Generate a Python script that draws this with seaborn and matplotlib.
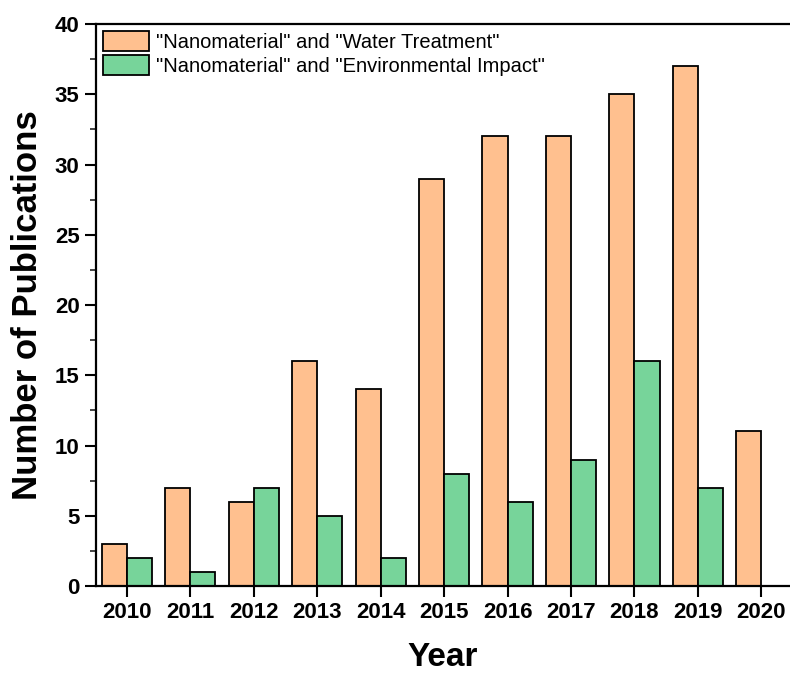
import pandas as pd
import matplotlib.pyplot as plt
import seaborn as sns
from matplotlib.ticker import MultipleLocator

# data
years = ['2010', '2011', '2012', '2013', '2014', '2015', '2016', '2017', '2018', '2019', '2020']
water = [3, 7, 6, 16, 14, 29, 32, 32, 35, 37, 11]
environ = [2, 1, 7, 5, 2, 8, 6, 9, 16, 7, None]

lab_w = '"Nanomaterial" and "Water Treatment"'
lab_e = '"Nanomaterial" and "Environmental Impact"'

df = pd.DataFrame({'Year': years, lab_w: water, lab_e: environ})
df_long = df.melt(id_vars=['Year'], value_vars=[lab_w, lab_e],
                  var_name='Query', value_name='Count')

sns.set_style('ticks')
plt.rcParams['font.family'] = ['Liberation Sans', 'DejaVu Sans']
plt.rcParams['text.color'] = 'black'
plt.rcParams['axes.labelcolor'] = 'black'

fig, ax = plt.subplots(figsize=(7.9, 6.77), dpi=100)
sns.barplot(x='Year', y='Count', hue='Query', data=df_long, ax=ax,
            palette=['#FFC08F', '#77D49A'], width=0.79, edgecolor='black',
            linewidth=1.3, saturation=1, errorbar=None)

ax.set_xlim(-0.49, 10.45)
ax.set_ylim(0, 40)
ax.yaxis.set_major_locator(MultipleLocator(5))
ax.yaxis.set_minor_locator(MultipleLocator(2.5))
ax.tick_params(axis='both', which='major', direction='out', length=8, width=1.5,
               labelsize=16, colors='black')
ax.tick_params(axis='y', which='minor', direction='out', length=4, width=1.2)
for lbl in ax.get_xticklabels() + ax.get_yticklabels():
    lbl.set_fontweight('bold')
for sp in ax.spines.values():
    sp.set_visible(True)
    sp.set_linewidth(1.6)
    sp.set_color('black')
ax.spines['right'].set_visible(False)

ax.set_xlabel('Year', fontsize=24, fontweight='bold', labelpad=14)
ax.set_ylabel('Number of Publications', fontsize=25, fontweight='bold', labelpad=8)

leg = ax.legend(loc='upper left', frameon=False, fontsize=14.5, handlelength=2.3,
                handleheight=1.15, borderaxespad=0, borderpad=0.35,
                labelspacing=0.15, handletextpad=0.35)

plt.subplots_adjust(left=0.121, right=1.0, top=0.9645, bottom=0.1344)
plt.savefig('out.png', dpi=100)
